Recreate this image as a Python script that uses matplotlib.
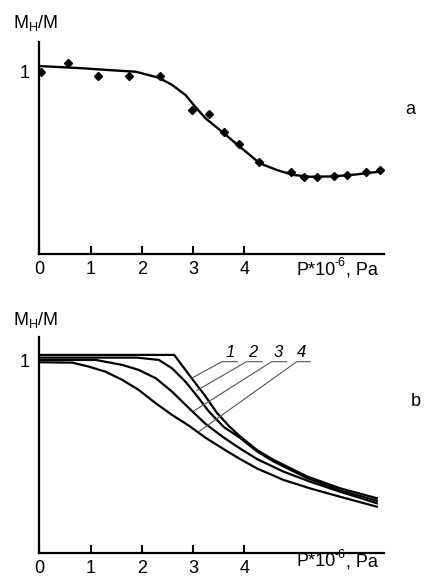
import matplotlib
matplotlib.use("Agg")
import matplotlib.pyplot as plt

plt.rcParams['font.family'] = ['Liberation Sans', 'DejaVu Sans']
plt.rcParams['mathtext.fontset'] = 'custom'
plt.rcParams['mathtext.rm'] = 'Liberation Sans'
plt.rcParams['mathtext.it'] = 'Liberation Sans:italic'

# ---- panel a data ----
a_pts_x = [0.03, 0.56, 1.15, 1.75, 2.35, 2.97, 3.31, 3.60, 3.89, 4.29, 4.91, 5.16, 5.42, 5.74, 6.00, 6.36, 6.65]
a_pts_y = [0.993, 1.042, 0.974, 0.974, 0.974, 0.787, 0.765, 0.669, 0.600, 0.505, 0.447, 0.420, 0.423, 0.427, 0.433, 0.451, 0.460]
a_fit_x = [0.0, 0.84, 1.36, 1.88, 2.13, 2.33, 2.59, 2.85, 3.04, 3.24, 3.52, 3.91, 4.30, 4.63, 4.95, 5.28, 5.73, 6.19, 6.66]
a_fit_y = [1.027, 1.015, 1.005, 0.996, 0.978, 0.963, 0.924, 0.869, 0.805, 0.742, 0.678, 0.587, 0.496, 0.460, 0.433, 0.423, 0.425, 0.436, 0.452]

# ---- panel b data ----
b1_x = [0.0, 2.63, 2.97, 3.24, 3.46, 3.70, 3.91, 4.24, 4.56, 5.21, 5.86, 6.58]
b1_y = [1.030, 1.030, 0.909, 0.815, 0.730, 0.660, 0.608, 0.537, 0.486, 0.400, 0.338, 0.286]
b2_x = [0.0, 1.90, 2.33, 2.59, 2.85, 3.11, 3.31, 3.60, 3.91, 4.24, 4.56, 5.21, 5.86, 6.58]
b2_y = [1.016, 1.016, 1.004, 0.960, 0.891, 0.805, 0.735, 0.655, 0.600, 0.530, 0.478, 0.392, 0.327, 0.273]
b3_x = [0.0, 1.10, 1.62, 1.94, 2.27, 2.59, 2.92, 3.24, 3.60, 3.91, 4.24, 4.76, 5.28, 5.86, 6.58]
b3_y = [1.004, 1.004, 0.978, 0.952, 0.909, 0.839, 0.753, 0.672, 0.600, 0.545, 0.490, 0.424, 0.372, 0.320, 0.260]
b4_x = [0.0, 0.64, 0.97, 1.29, 1.62, 1.94, 2.27, 2.59, 2.92, 3.24, 3.60, 3.91, 4.24, 4.76, 5.28, 5.86, 6.58]
b4_y = [0.992, 0.990, 0.969, 0.943, 0.900, 0.848, 0.779, 0.718, 0.662, 0.600, 0.540, 0.490, 0.441, 0.381, 0.337, 0.294, 0.242]

curve_labels = ['1', '2', '3', '4']
xticks = [0, 1, 2, 3, 4]

W, H = 424, 578
fig = plt.figure(figsize=(W/100, H/100), dpi=100)

ax_a = fig.add_axes([39.3/W, 1-254.3/H, (384-39.3)/W, (254.3-42)/H])
ax_b = fig.add_axes([39.3/W, 1-553.3/H, (384-39.3)/W, (553.3-336.7)/H])

for ax in (ax_a, ax_b):
    for s in ('top', 'right'):
        ax.spines[s].set_visible(False)
    for s in ('left', 'bottom'):
        ax.spines[s].set_linewidth(1.6)
    ax.set_xticks(xticks)
    ax.set_xticklabels([str(t) for t in xticks], fontsize=13)
    ax.tick_params(axis='x', direction='in', length=6, width=1.5, pad=5)
    ax.set_yticks([1])
    ax.set_yticklabels(['1'], fontsize=13)
    ax.tick_params(axis='y', length=0, pad=7)
    ax.set_xlim(0, 6.72)

ax_a.set_ylim(0, (254.3-42)/183.3)
ax_b.set_ylim(0, (553.3-336.7)/192.6)

ax_a.plot(a_fit_x, a_fit_y, color='black', lw=1.7, solid_joinstyle='round')
ax_a.plot(a_pts_x, a_pts_y, linestyle='none', marker='D', markersize=4.5, color='black')

for xs, ys in ((b1_x, b1_y), (b2_x, b2_y), (b3_x, b3_y), (b4_x, b4_y)):
    ax_b.plot(xs, ys, color='black', lw=1.6, solid_joinstyle='round')

# curve labels with leader lines
lab_x = [3.72, 4.17, 4.66, 5.11]
ul_x0 = [3.56, 4.04, 4.53, 5.02]
ul_x1 = [3.86, 4.34, 4.82, 5.28]
lead_end = [(2.97, 0.909), (3.07, 0.845), (3.02, 0.740), (3.10, 0.630)]
for lab, lx, x0, x1, (ex, ey) in zip(curve_labels, lab_x, ul_x0, ul_x1, lead_end):
    ax_b.text(lx, 1.042, lab, ha='center', va='center', fontsize=12, style='italic')
    ax_b.plot([ex, x0, x1], [ey, 0.995, 0.995], color='#555555', lw=0.8)

# x-axis labels "P*10^-6, Pa" built from pieces (hyphen, not minus)
renderer = fig.canvas.get_renderer()
for y_px in (270, 561.7):
    t1 = fig.text(296/W, 1-y_px/H, 'P*10', ha='left', va='center', fontsize=13)
    bb = t1.get_window_extent(renderer)
    t2 = fig.text((bb.x1 - 0.5)/W, 1-(y_px-7)/H, '-6', ha='left', va='center', fontsize=9)
    bb2 = t2.get_window_extent(renderer)
    fig.text((bb2.x1 + 0.5)/W, 1-y_px/H, ', Pa', ha='left', va='center', fontsize=13)

fig.text(13/W, 1-23/H, r'M$_\mathrm{H}$/M', ha='left', va='center', fontsize=13)
fig.text(13/W, 1-320/H, r'M$_\mathrm{H}$/M', ha='left', va='center', fontsize=13)
fig.text(410/W, 1-110/H, 'a', ha='center', va='center', fontsize=13)
fig.text(416/W, 1-402/H, 'b', ha='center', va='center', fontsize=13)

fig.savefig('out.png', dpi=100)
